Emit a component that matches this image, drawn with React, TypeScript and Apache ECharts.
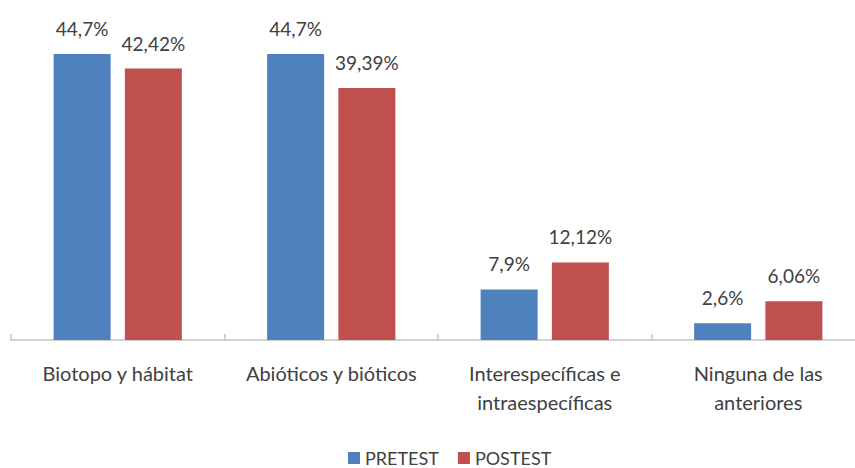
import React, { useEffect, useRef } from "react";
import * as echarts from "echarts";

const categories = [
  "Biotopo y hábitat",
  "Abióticos y bióticos",
  "Interespecíficas e\nintraespecíficas",
  "Ninguna de las\nanteriores",
];
const seriesNames = ["PRETEST", "POSTEST"];
const pretest = [44.7, 44.7, 7.9, 2.6];
const postest = [42.42, 39.39, 12.12, 6.06];

const FONT = "Lato";
const TEXT = "#404040";

export default function App() {
  const ref = useRef<HTMLDivElement>(null);
  useEffect(() => {
    if (!ref.current) return;
    const chart = echarts.init(ref.current, undefined, { renderer: "svg" });
    const label = {
      show: true,
      position: "top" as const,
      distance: 16,
      color: TEXT,
      fontFamily: FONT,
      fontSize: 19,
      formatter: (p: any) => String(p.value).replace(".", ",") + "%",
    };
    chart.setOption({
      animation: false,
      backgroundColor: "#ffffff",
      textStyle: { fontFamily: FONT },
      grid: { left: 11, width: 854, top: 20, height: 320, containLabel: false },
      legend: {
        data: seriesNames,
        left: 343,
        top: 444,
        icon: "rect",
        itemWidth: 12,
        itemHeight: 12,
        itemGap: 19,
        textStyle: { color: TEXT, fontFamily: FONT, fontSize: 18, padding: [0, 0, 0, 0] },
      },
      xAxis: {
        type: "category",
        data: categories,
        boundaryGap: true,
        axisLine: { lineStyle: { color: "#c4c4c4", width: 1.5 } },
        axisTick: { show: true, inside: true, length: 6, lineStyle: { color: "#c4c4c4", width: 1.5 } },
        axisLabel: {
          color: TEXT,
          fontFamily: FONT,
          fontSize: 20,
          lineHeight: 29,
          margin: 18,
          interval: 0,
        },
      },
      yAxis: {
        type: "value",
        min: 0,
        max: 50,
        show: false,
        splitLine: { show: false },
      },
      series: [
        {
          name: seriesNames[0],
          type: "bar",
          data: pretest,
          barWidth: 57,
          barGap: "25%",
          itemStyle: { color: "#4F81BD" },
          label,
        },
        {
          name: seriesNames[1],
          type: "bar",
          data: postest,
          barWidth: 57,
          barGap: "25%",
          itemStyle: { color: "#C0504D" },
          label,
        },
      ],
    });
    return () => chart.dispose();
  }, []);
  return (
    <div
      style={{
        position: "fixed",
        left: 0,
        top: 0,
        width: 855,
        height: 468,
        overflow: "hidden",
        background: "#ffffff",
      }}
    >
      <div ref={ref} style={{ width: 880, height: 468 }} />
    </div>
  );
}
